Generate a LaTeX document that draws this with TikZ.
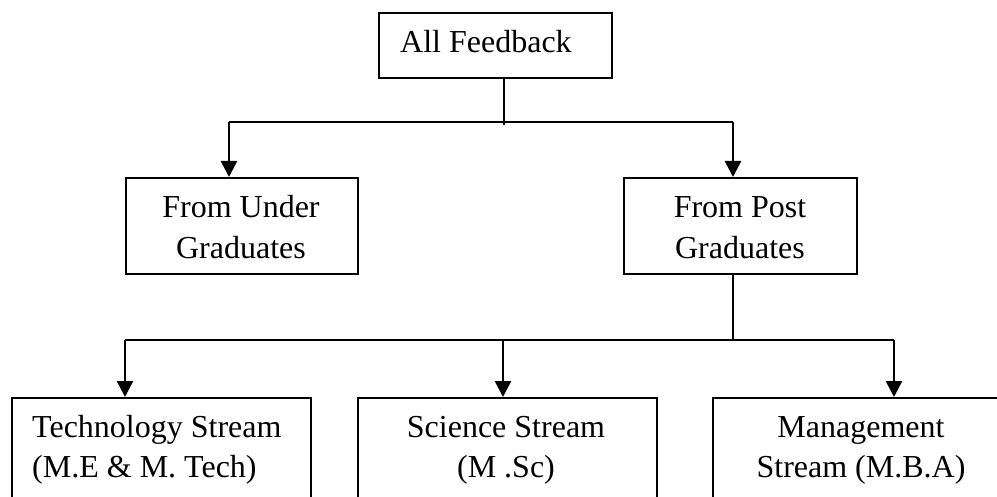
\documentclass[tikz,border=0pt]{standalone}
\usepackage{fontspec}
\setmainfont{Liberation Serif}
\usetikzlibrary{arrows.meta}
\begin{document}
\begin{tikzpicture}[x=1pt,y=-1pt,
  boxnode/.style={draw=black,line width=2pt,rectangle,inner sep=0pt,anchor=north west},
  txt/.style={inner sep=0pt,font=\fontsize{32}{41}\selectfont},
  plain/.style={draw=black,line width=2pt},
  arr/.style={draw=black,line width=2.5pt,-{Triangle[width=16pt,length=16pt]}}]
\useasboundingbox (0,0) rectangle (997,497);
\clip (0,0) rectangle (997,497);
% boxes
\node[boxnode,minimum width=233pt,minimum height=65pt] (fb) at (378,12) {};
\node[boxnode,minimum width=232pt,minimum height=96pt] (ug) at (125,177) {};
\node[boxnode,minimum width=233pt,minimum height=96pt] (pg) at (623,177) {};
\node[boxnode,minimum width=299pt,minimum height=140pt] (ts) at (11,397) {};
\node[boxnode,minimum width=299pt,minimum height=140pt] (ss) at (357,397) {};
\node[boxnode,minimum width=298pt,minimum height=140pt] (ms) at (712,397) {};
% texts
\node[txt,anchor=base west] (t1) at (400,53) {All Feedback};
\node[txt,anchor=base] (t2) at (241,218) {From Under};
\node[txt,anchor=base] (t3) at (241,259) {Graduates};
\node[txt,anchor=base] (t4) at (740,218) {From Post};
\node[txt,anchor=base] (t5) at (740,259) {Graduates};
\node[txt,anchor=base west] (t6) at (32,437) {Technology Stream};
\node[txt,anchor=base west] (t7) at (32,477) {(M.E \& M. Tech)};
\node[txt,anchor=base] (t8) at (506,437) {Science Stream};
\node[txt,anchor=base] (t9) at (506,477) {(M .Sc)};
\node[txt,anchor=base] (t10) at (861,437) {Management};
\node[txt,anchor=base] (t11) at (861,477) {Stream (M.B.A)};
% junctions
\coordinate (a0) at (504,125);
\coordinate (aL) at (229,122);
\coordinate (aR) at (733,122);
\coordinate (b0) at (733,340);
\coordinate (bL) at (125,340);
\coordinate (bM) at (503,340);
\coordinate (bR) at (894,340);
% connectors
\draw[plain] (fb.south -| a0) -- (a0);
\draw[plain] (aL) -- (aR);
\draw[arr] (aL) -- (aL |- ug.north);
\draw[arr] (aR) -- (aR |- pg.north);
\draw[plain] (pg.south -| b0) -- (b0);
\draw[plain] (bL) -- (bR);
\draw[arr] (bL) -- (bL |- ts.north);
\draw[arr] (bM) -- (bM |- ss.north);
\draw[arr] (bR) -- (bR |- ms.north);
\end{tikzpicture}
\end{document}
